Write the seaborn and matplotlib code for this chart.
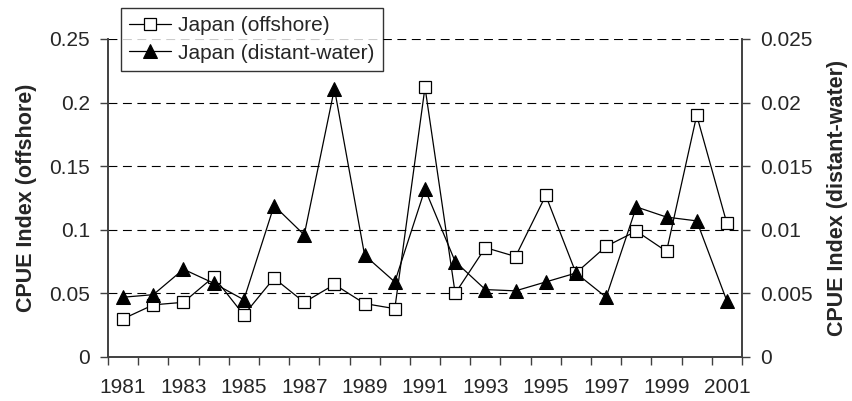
import numpy as np
import pandas as pd
import matplotlib
matplotlib.use("Agg")
import matplotlib.pyplot as plt
import seaborn as sns
from matplotlib.ticker import FixedLocator, FixedFormatter

# CPUE index series
years = list(range(1981, 2002))
offshore = [0.030, 0.041, 0.043, 0.063, 0.033, 0.062, 0.043, 0.057, 0.042, 0.038,
            0.212, 0.050, 0.086, 0.079, 0.127, 0.066, 0.087, 0.099, 0.083, 0.190, 0.105]
distant = [0.0047, 0.0049, 0.0069, 0.0058, 0.0045, 0.0119, 0.0096, 0.0211, 0.0080, 0.0059,
           0.0132, 0.0075, 0.0053, 0.0052, 0.0059, 0.0066, 0.0047, 0.0118, 0.0110, 0.0107, 0.0044]
year_labels = [str(y) for y in range(1981, 2002, 2)]
left_ticks = [0, 0.05, 0.1, 0.15, 0.2, 0.25]
left_labels = ["0", "0.05", "0.1", "0.15", "0.2", "0.25"]
right_ticks = [0, 0.005, 0.01, 0.015, 0.02, 0.025]
right_labels = ["0", "0.005", "0.01", "0.015", "0.02", "0.025"]

df = pd.DataFrame({"year": years, "offshore": offshore, "distant": distant})

sns.set_style("white")
plt.rcParams["font.family"] = ["Liberation Sans", "DejaVu Sans"]

fig = plt.figure(figsize=(8.52, 4.01), dpi=100)
ax = fig.add_axes([108 / 852, 1 - 357 / 401, 634 / 852, 318 / 401])
ax2 = ax.twinx()

sns.lineplot(data=df, x="year", y="offshore", ax=ax, color="black", lw=0.9,
             marker="s", markersize=9, markerfacecolor="white",
             markeredgecolor="black", markeredgewidth=0.9,
             label="Japan (offshore)", legend=False)
sns.lineplot(data=df, x="year", y="distant", ax=ax2, color="black", lw=0.9,
             marker="^", markersize=10, markerfacecolor="black",
             markeredgecolor="black", label="Japan (distant-water)", legend=False)

ax.set_xlim(1980.5, 2001.5)
ax.set_ylim(0, 0.25)
ax2.set_ylim(0, 0.025)

ax.set_xticks(list(range(1981, 2002, 2)))
ax.set_xticklabels(year_labels)
ax.xaxis.set_minor_locator(FixedLocator(np.arange(1980.5, 2002, 1)))
ax.tick_params(axis="x", which="major", length=0, pad=15, labelsize=15)
ax.tick_params(axis="x", which="minor", length=6, width=1, color="#404040",
               direction="out", bottom=True)

ax.yaxis.set_major_locator(FixedLocator(left_ticks))
ax.yaxis.set_major_formatter(FixedFormatter(left_labels))
ax2.yaxis.set_major_locator(FixedLocator(right_ticks))
ax2.yaxis.set_major_formatter(FixedFormatter(right_labels))
ax.tick_params(axis="y", length=6, width=1, color="#404040", direction="out",
               left=True, labelsize=15, pad=7)
ax2.tick_params(axis="y", length=6, width=1, color="#404040", direction="out",
                right=True, labelsize=15, pad=7)

ax.grid(False)
ax2.grid(False)
for v in left_ticks[1:]:
    ax.axhline(v, color="black", lw=0.8, ls=(0, (8, 5)), zorder=0)

for a in (ax, ax2):
    a.spines["top"].set_visible(False)
    for s in ("left", "right", "bottom"):
        a.spines[s].set_color("#404040")
        a.spines[s].set_linewidth(1.2)

ax.set_xlabel("")
ax.set_ylabel("CPUE Index (offshore)", fontsize=15.5, fontweight="bold", labelpad=9)
ax2.set_ylabel("CPUE Index (distant-water)", fontsize=15.5, fontweight="bold",
               labelpad=10)

h1, l1 = ax.get_legend_handles_labels()
h2, l2 = ax2.get_legend_handles_labels()
leg = fig.legend(h1 + h2, l1 + l2, loc="upper left",
                 bbox_to_anchor=(121 / 852, 1 - 8 / 401), borderaxespad=0,
                 fontsize=15, frameon=True, fancybox=False, handlelength=2.0,
                 handletextpad=0.35, labelspacing=0.4, borderpad=0.4)
leg.get_frame().set_edgecolor("black")
leg.get_frame().set_linewidth(1)

fig.savefig("out.png", dpi=100)
